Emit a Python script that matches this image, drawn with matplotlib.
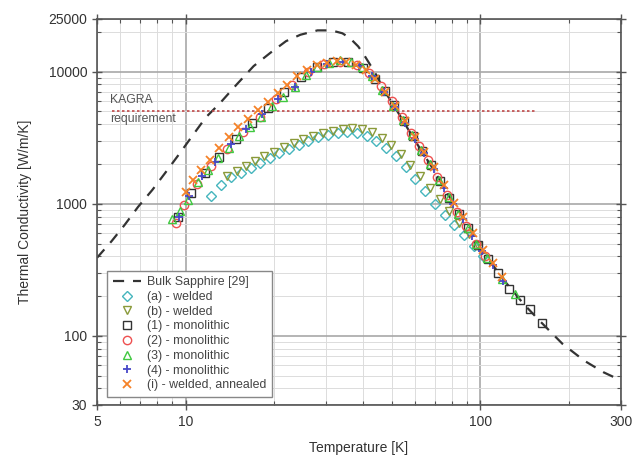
import matplotlib
matplotlib.use("Agg")
import matplotlib.pyplot as plt
from matplotlib.ticker import FixedLocator, NullFormatter, FixedFormatter

plt.rcParams['font.family'] = ['Liberation Sans', 'DejaVu Sans']

# ---------------- data ----------------
bulk_T = [5.0, 5.6, 6.2, 6.9, 7.7, 8.5, 9.6, 10.6, 11.7, 13.1, 14.9, 17.0, 19.4, 21.9, 24.5,
          28.0, 31.2, 34.0, 36.0, 38.5, 40.1, 43.8, 47.0, 52.0, 60.0, 70.0, 80.0, 90.0, 100.0,
          120.0, 140.0, 160.0, 190.0, 225.0, 262.0, 300.0]
bulk_k = [390, 520, 690, 950, 1270, 1700, 2450, 3330, 4500, 5800, 8000, 11000, 13900, 17000, 19000,
          20500, 20500, 19500, 18000, 15500, 13600, 9900, 7300, 5100, 3000, 1750, 1050, 720, 460,
          265, 175, 128, 87, 65, 53, 46]

kagra_T = [5.6, 155.0]
kagra_k = [5000, 5000]

T_a = [12.2, 13.2, 14.3, 15.4, 16.6, 17.9, 19.3, 20.8, 22.4, 24.2, 26.1, 28.2, 30.4, 32.8, 35.4,
       38.2, 41.2, 44.4, 47.9, 51.7, 55.8, 60.2, 65.0, 70.1, 75.6, 81.6, 88.0, 95.0, 102.0]
k_a = [1150, 1380, 1600, 1720, 1880, 2040, 2220, 2420, 2600, 2800, 3000, 3180, 3320, 3420, 3480,
       3450, 3250, 3000, 2650, 2280, 1900, 1550, 1250, 1000, 820, 690, 580, 480, 400]

T_b = [13.8, 14.9, 16.0, 17.2, 18.5, 20.0, 21.6, 23.3, 25.1, 27.1, 29.3, 31.6, 34.1, 36.8, 39.7,
       42.8, 46.2, 49.8, 53.7, 57.9, 62.5, 67.4, 72.7, 78.4, 84.6, 91.2, 98.4]
k_b = [1620, 1780, 1920, 2100, 2280, 2480, 2680, 2880, 3080, 3280, 3450, 3580, 3680, 3720, 3680,
       3480, 3150, 2780, 2380, 1980, 1620, 1320, 1080, 880, 720, 590, 480]

T_1 = [9.4, 10.4, 11.6, 13.0, 14.8, 16.8, 19.0, 21.6, 24.6, 27.8, 31.5, 35.5, 40.0, 44.0, 47.5,
       51.0, 55.0, 59.0, 63.5, 68.0, 73.0, 78.5, 84.5, 91.0, 98.0, 106.0, 115.0, 125.0, 136.0,
       147.0, 162.0]
k_1 = [790, 1200, 1700, 2250, 3100, 4050, 5300, 6950, 9100, 10900, 11750, 11750, 10700, 8850, 7100,
       5550, 4200, 3250, 2500, 1950, 1480, 1110, 830, 650, 485, 385, 300, 225, 188, 160, 125]

T_2 = [9.3, 9.9, 10.9, 12.2, 13.8, 15.7, 17.8, 20.2, 23.0, 26.0, 29.5, 33.5, 38.0, 42.0, 46.0,
       50.0, 54.0, 58.0, 62.0, 66.5, 71.5, 77.0, 83.0, 89.5, 96.5, 104.0]
k_2 = [720, 980, 1400, 1920, 2600, 3500, 4550, 6150, 7900, 10000, 11400, 11800, 11200, 9800, 7800,
       6000, 4500, 3450, 2750, 2150, 1600, 1170, 870, 680, 500, 400]

T_3 = [9.0, 9.6, 10.2, 11.0, 11.9, 12.9, 14.0, 15.2, 16.5, 18.0, 19.6, 21.4, 23.4, 25.6, 28.0,
       30.6, 33.4, 36.5, 39.5, 43.0, 46.5, 50.5, 54.5, 58.5, 63.0, 67.5, 72.5, 78.0, 84.0, 90.5,
       97.0, 105.0, 118.0, 131.0]
k_3 = [760, 880, 1060, 1450, 1800, 2200, 2650, 3250, 3800, 4550, 5500, 6450, 7700, 9500, 10800,
       11600, 12300, 11900, 10800, 9200, 7200, 5500, 4300, 3300, 2550, 2000, 1500, 1130, 830, 650,
       500, 390, 270, 208]

T_4 = [9.5, 10.3, 11.4, 12.6, 14.2, 16.0, 18.2, 20.6, 23.4, 26.6, 30.2, 34.2, 38.8, 43.0, 47.0,
       51.2, 55.5, 60.0, 64.5, 69.5, 75.0, 81.0, 87.5, 94.0, 101.0, 110.0, 119.0]
k_4 = [800, 1150, 1620, 2080, 2850, 3700, 4750, 6250, 7700, 9900, 11500, 11800, 11000, 9200, 7000,
       5400, 4050, 3100, 2400, 1820, 1320, 990, 760, 570, 440, 345, 262]

T_i = [10.0, 10.6, 11.3, 12.1, 13.0, 14.0, 15.1, 16.3, 17.6, 19.0, 20.5, 22.1, 23.9, 25.8, 27.9,
       30.1, 32.5, 35.0, 37.8, 40.8, 44.0, 47.5, 51.3, 55.4, 59.8, 64.5, 69.6, 75.1, 81.1, 87.5,
       94.5, 102.0, 110.0, 118.0]
k_i = [1230, 1500, 1800, 2150, 2650, 3200, 3800, 4400, 5100, 5900, 6900, 7900, 9200, 10300, 11200,
       11700, 12000, 11900, 11300, 10300, 8800, 7000, 5500, 4200, 3200, 2450, 1900, 1380, 1020, 790,
       600, 450, 355, 280]

x_ticks = [5, 10, 100, 300]
x_labels = ['5', '10', '100', '300']
y_ticks = [30, 100, 1000, 10000, 25000]
y_labels = ['30', '100', '1000', '10000', '25000']

# ---------------- figure ----------------
fig = plt.figure(figsize=(6.35, 4.66), dpi=100)
ax = fig.add_axes([97/635, 1 - 405/466, (621-97)/635, (405-19)/466])
ax.set_xscale('log')
ax.set_yscale('log')

ax.plot(bulk_T, bulk_k, ls=(0, (5, 4)), color='#333333', lw=1.6, label='Bulk Sapphire [29]', zorder=2)
ax.plot(kagra_T, kagra_k, ls=(0, (1.5, 1.5)), color='#c04848', lw=1.2, zorder=2)

common = dict(ls='none', fillstyle='none', zorder=3)
ax.plot(T_a, k_a, marker='D', color='#45b5bd', ms=5.2, mew=1.0, label='(a) - welded', **common)
ax.plot(T_b, k_b, marker='v', color='#8a9a3a', ms=6, mew=1.0, label='(b) - welded', **common)
ax.plot(T_1, k_1, marker='s', color='#333333', ms=5.2, mew=1.0, label='(1) - monolithic', **common)
ax.plot(T_2, k_2, marker='o', color='#ee5050', ms=6, mew=1.0, label='(2) - monolithic', **common)
ax.plot(T_3, k_3, marker='^', color='#40c840', ms=6, mew=1.0, label='(3) - monolithic', **common)
ax.plot(T_4, k_4, marker='+', color='#4848c8', ms=6, mew=1.3, ls='none', zorder=3, label='(4) - monolithic')
ax.plot(T_i, k_i, marker='x', color='#f58228', ms=6, mew=1.3, ls='none', zorder=3, label='(i) - welded, annealed')

ax.text(5.55, 5450, 'KAGRA', fontsize=8.8, color='#555555', va='bottom', ha='left')
ax.text(5.55, 4850, 'requirement', fontsize=8.8, color='#555555', va='top', ha='left')

ax.set_xlim(5, 300)
ax.set_ylim(30, 25000)

ax.xaxis.set_major_locator(FixedLocator(x_ticks))
ax.xaxis.set_major_formatter(FixedFormatter(x_labels))
ax.xaxis.set_minor_locator(FixedLocator([6, 7, 8, 9, 20, 30, 40, 50, 60, 70, 80, 90, 200]))
ax.xaxis.set_minor_formatter(NullFormatter())
ax.yaxis.set_major_locator(FixedLocator(y_ticks))
ax.yaxis.set_major_formatter(FixedFormatter(y_labels))
ax.yaxis.set_minor_locator(FixedLocator([40, 50, 60, 70, 80, 90, 200, 300, 400, 500, 600, 700, 800, 900,
                                         2000, 3000, 4000, 5000, 6000, 7000, 8000, 9000, 20000]))
ax.yaxis.set_minor_formatter(NullFormatter())

ax.grid(True, which='major', color='#a8a8a8', lw=1.2, zorder=0)
ax.grid(True, which='minor', color='#dcdcdc', lw=0.7, zorder=0)
ax.set_axisbelow(True)

for s in ax.spines.values():
    s.set_color('#555555')
    s.set_linewidth(1.2)

ax.tick_params(which='both', top=True, right=True, labelsize=10, colors='#555555', labelcolor='#333333')
ax.tick_params(which='major', direction='inout', length=7, width=1.0)
ax.tick_params(which='minor', direction='in', length=3, width=0.8)

ax.set_xlabel('Temperature [K]', fontsize=10, color='#333333', labelpad=9)
ax.set_ylabel('Thermal Conductivity [W/m/K]', fontsize=10, color='#333333', labelpad=12)

leg = ax.legend(loc='lower left', bbox_to_anchor=(0.019, 0.021), borderaxespad=0, fontsize=8.9,
                frameon=True, fancybox=False, edgecolor='#888888', framealpha=1, labelspacing=0.22,
                handlelength=2.3, borderpad=0.45, handletextpad=0.5, labelcolor='#444444')
leg.get_frame().set_linewidth(1.0)

fig.savefig('out.png', dpi=100)
